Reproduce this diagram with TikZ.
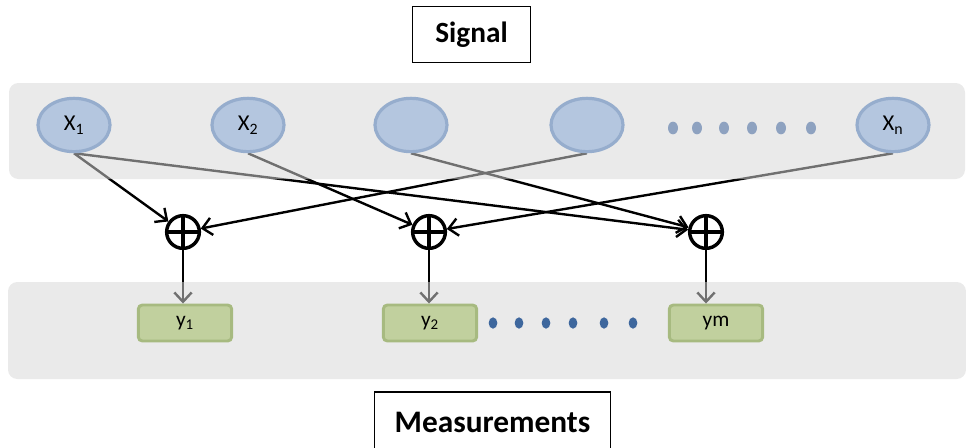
\documentclass[tikz,border=0pt]{standalone}
\usepackage{fontspec}
\setmainfont{Carlito}
\usetikzlibrary{arrows.meta,shapes.geometric}
\pgfdeclarelayer{wires}
\pgfdeclarelayer{bands}
\pgfsetlayers{wires,bands,main}
\definecolor{bandgray}{RGB}{215,215,215}
\definecolor{sigfill}{RGB}{180,198,223}
\definecolor{sigedge}{RGB}{150,173,205}
\definecolor{sigdot}{RGB}{142,162,192}
\definecolor{measfill}{RGB}{193,208,158}
\definecolor{measedge}{RGB}{167,186,128}
\definecolor{measdot}{RGB}{62,103,157}
\tikzset{
  band/.style={fill=bandgray, fill opacity=.52, rounded corners=7pt},
  sig/.style={ellipse, fill=sigfill, draw=sigedge, line width=2.4pt,
    minimum width=54pt, minimum height=40pt, inner sep=0pt,
    font=\fontsize{17}{20}\selectfont},
  sdot/.style={ellipse, fill=sigdot, minimum width=7.5pt, minimum height=9.5pt, inner sep=0pt},
  mdot/.style={ellipse, fill=measdot, minimum width=6.5pt, minimum height=8.5pt, inner sep=0pt},
  sum/.style={circle, draw, line width=2.6pt, minimum size=24.5pt, inner sep=0pt,
    path picture={\draw[line width=2.3pt]
      (path picture bounding box.north) -- (path picture bounding box.south)
      (path picture bounding box.west) -- (path picture bounding box.east);}},
  meas/.style={rectangle, rounded corners=3pt, fill=measfill, draw=measedge, line width=2.2pt,
    minimum width=70pt, minimum height=27pt, inner sep=0pt,
    font=\fontsize{16}{19}\selectfont},
  title/.style={draw, line width=.9pt, inner sep=0pt, font=\bfseries},
  link/.style={line width=1.8pt, -{Straight Barb[length=7pt,width=13pt]}},
}
\begin{document}
\begin{tikzpicture}[x=0.75pt, y=-0.75pt]
	\useasboundingbox (0,0) rectangle (966,447);
	% titles
	\node[title, minimum width=88pt, minimum height=42pt] (sig) at (471.5,34.5) {\fontsize{22}{26}\selectfont Signal};
	\node[title, minimum width=177pt, minimum height=45pt] (meas) at (492.5,422) {\fontsize{23.5}{28}\selectfont Measurements};
	% bands
	\begin{pgfonlayer}{bands}
		\fill[band] (9,83) rectangle (965,179);
		\fill[band] (8,282) rectangle (966,379);
	\end{pgfonlayer}
	% signal entries
	\node[sig] (x1) at (74,125) {X\textsubscript{1}};
	\node[sig] (x2) at (248,125) {X\textsubscript{2}};
	\node[sig] (x3) at (411,125) {};
	\node[sig] (x4) at (587,125) {};
	\node[sig] (xn) at (893,125) {X\textsubscript{n}};
	\foreach \i/\px in {1/673,2/697,3/724,4/752,5/781,6/811}
		\node[sdot] (sd\i) at (\px,128) {};
	% sums
	\node[sum] (p1) at (183,232) {};
	\node[sum] (p2) at (429,232) {};
	\node[sum] (p3) at (706,232) {};
	% measurements
	\node[meas] (y1) at (185,323) {y\textsubscript{1}};
	\node[meas] (y2) at (430,323) {y\textsubscript{2}};
	\node[meas] (ym) at (716,323) {ym};
	\foreach \i/\px in {1/493,2/519,3/546,4/573,5/604,6/633}
		\node[mdot] (md\i) at (\px,323) {};
	% links
	\begin{pgfonlayer}{wires}
		\draw[link] (x1.south) -- (p1);
		\draw[link] (x1.south) -- (p3);
		\draw[link] (x2.south) -- (p2);
		\draw[link] (x3.south) -- (p3);
		\draw[link] (x4.south) -- (p1);
		\draw[link] (xn.south) -- (p2);
		\draw[link] (p1.south) -- (p1.south |- y1.north);
		\draw[link] (p2.south) -- (p2.south |- y2.north);
		\draw[link] (p3.south) -- (p3.south |- ym.north);
	\end{pgfonlayer}
\end{tikzpicture}
\end{document}
